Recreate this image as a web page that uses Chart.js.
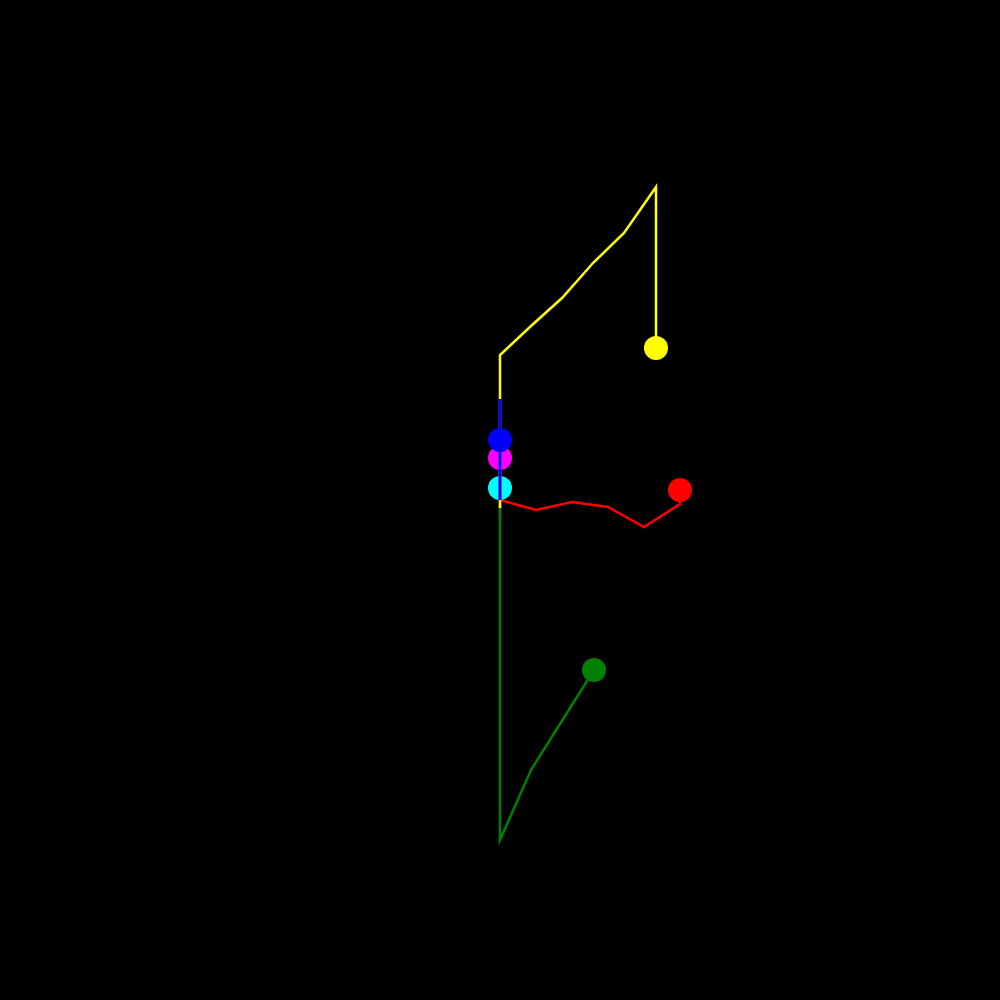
<!DOCTYPE html>
<html>
<head>
<meta charset="utf-8">
<script src="https://cdn.jsdelivr.net/npm/chart.js@4/dist/chart.umd.min.js"></script>
<style>
  html, body { margin: 0; padding: 0; background: #000; }
  #wrap { width: 1000px; height: 1000px; }
</style>
</head>
<body>
<div id="wrap"><canvas id="chart" width="1000" height="1000"></canvas></div>
<script>
// path values, each series ends with a marked point
const yellowX = [0, 0, 0.62, 1.24, 1.86, 2.48, 3.12, 3.12];
const yellowY = [-0.16, 2.9, 3.48, 4.04, 4.74, 5.34, 6.26, 3.04];
const redX = [0, 0.72, 1.44, 2.16, 2.88, 3.6, 3.6];
const redY = [0, -0.2, -0.04, -0.14, -0.54, -0.08, 0.2];
const greenX = [0, 0, 0.62, 1.25, 1.88];
const greenY = [-0.1, -6.8, -5.4, -4.4, -3.4];
const blueX = [0, 0, 0];
const blueY = [0, 2.02, 1.2];
const magentaX = [0, 0, 0];
const magentaY = [0, -0.4, 0.84];
const cyanX = [0, 0];
const cyanY = [0, 0.24];

function pts(xs, ys) {
  return xs.map((x, i) => ({ x, y: ys[i] }));
}

function series(xs, ys, color, order, width) {
  const n = xs.length;
  return {
    data: pts(xs, ys),
    borderColor: color,
    backgroundColor: color,
    borderWidth: width || 2.5,
    showLine: true,
    order,
    pointRadius: ctx => (ctx.dataIndex === n - 1 ? 12 : 0),
    pointBorderWidth: 0,
    pointHoverRadius: 12
  };
}

new Chart(document.getElementById('chart'), {
  type: 'scatter',
  data: {
    datasets: [
      series(blueX, blueY, '#0000ff', 0, 3),
      series(yellowX, yellowY, '#ffff00', 1),
      series(greenX, greenY, '#008000', 2),
      series(magentaX, magentaY, '#ff00ff', 3),
      series(cyanX, cyanY, '#00ffff', 4),
      series(redX, redY, '#ff0000', 5)
    ]
  },
  options: {
    responsive: false,
    animation: false,
    layout: { padding: 0, autoPadding: false },
    plugins: { legend: { display: false }, tooltip: { enabled: false } },
    scales: {
      x: { type: 'linear', min: -10, max: 10, display: false },
      y: { type: 'linear', min: -10, max: 10, display: false }
    }
  }
});
</script>
</body>
</html>
